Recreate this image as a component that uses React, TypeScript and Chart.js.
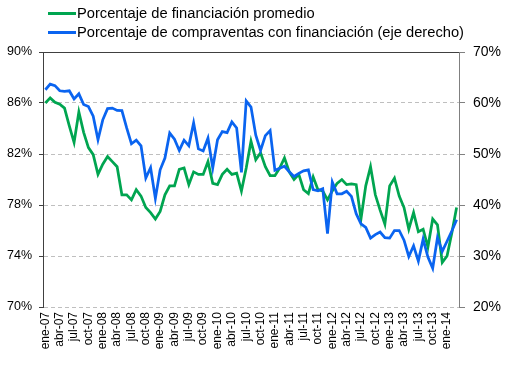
import React, { useEffect, useRef } from 'react';
import { Chart, registerables } from 'chart.js';

Chart.register(...registerables);

const categories: string[] = [
  'ene-07','feb-07','mar-07','abr-07','may-07','jun-07','jul-07','ago-07','sep-07','oct-07','nov-07','dic-07',
  'ene-08','feb-08','mar-08','abr-08','may-08','jun-08','jul-08','ago-08','sep-08','oct-08','nov-08','dic-08',
  'ene-09','feb-09','mar-09','abr-09','may-09','jun-09','jul-09','ago-09','sep-09','oct-09','nov-09','dic-09',
  'ene-10','feb-10','mar-10','abr-10','may-10','jun-10','jul-10','ago-10','sep-10','oct-10','nov-10','dic-10',
  'ene-11','feb-11','mar-11','abr-11','may-11','jun-11','jul-11','ago-11','sep-11','oct-11','nov-11','dic-11',
  'ene-12','feb-12','mar-12','abr-12','may-12','jun-12','jul-12','ago-12','sep-12','oct-12','nov-12','dic-12',
  'ene-13','feb-13','mar-13','abr-13','may-13','jun-13','jul-13','ago-13','sep-13','oct-13','nov-13','dic-13',
  'ene-14','feb-14','mar-14',
];

// Porcentaje de financiación promedio (left axis, %)
const financiacionPromedio: number[] = [
  86.0, 86.4, 86.05, 85.9, 85.6, 84.2, 82.9, 85.3, 83.7, 82.5, 81.95, 80.4,
  81.2, 81.8, 81.4, 81.0, 78.8, 78.8, 78.4, 79.2, 78.7, 77.8, 77.4, 76.9,
  77.5, 78.8, 79.5, 79.5, 80.8, 80.9, 79.6, 80.6, 80.4, 80.4, 81.4, 79.7,
  79.6, 80.4, 80.8, 80.4, 80.5, 79.1, 80.9, 83.0, 81.55, 82.1, 81.0, 80.3,
  80.3, 80.9, 81.7, 80.6, 80.0, 80.4, 79.2, 78.9, 80.2, 79.2, 79.1, 78.4,
  79.1, 79.7, 80.0, 79.6, 79.65, 79.6, 76.9, 79.5, 81.0, 78.8, 77.6, 76.5,
  79.5, 80.1, 78.7, 77.8, 76.1, 77.4, 75.9, 76.1, 74.7, 76.9, 76.45, 73.5,
  74.0, 75.8, 77.8,
];

// Porcentaje de compraventas con financiación (right axis, %)
const compraventasFinanciacion: number[] = [
  62.6, 63.7, 63.4, 62.4, 62.3, 62.4, 60.8, 61.8, 59.7, 59.3, 57.4, 52.8,
  56.7, 58.9, 59.0, 58.55, 58.5, 55.1, 52.0, 52.7, 51.6, 45.3, 47.3, 41.3,
  46.9, 49.2, 54.1, 52.9, 50.7, 52.7, 51.6, 56.1, 51.0, 50.6, 53.1, 47.3,
  52.8, 54.4, 54.2, 56.3, 55.1, 46.4, 60.4, 59.2, 53.7, 50.7, 53.6, 54.6,
  46.8, 47.2, 47.6, 46.5, 45.6, 46.2, 46.7, 46.9, 43.0, 42.8, 43.2, 34.4,
  44.5, 42.2, 42.2, 42.7, 41.7, 38.3, 36.3, 35.6, 33.5, 34.2, 34.7, 33.6,
  33.5, 35.0, 35.0, 33.1, 29.9, 32.0, 29.0, 33.3, 29.8, 27.6, 33.6, 30.9,
  32.9, 34.9, 37.1,
];

const seriesLabels: string[] = [
  'Porcentaje de financiación promedio',
  'Porcentaje de compraventas con financiación (eje derecho)',
];

const leftTicks: number[] = [70, 74, 78, 82, 86, 90];
const rightTicks: number[] = [20, 30, 40, 50, 60, 70];

const GREEN = '#00A550';
const BLUE = '#0A64F0';
const FONT = '"Liberation Sans", Arial, sans-serif';

const legendPlugin = {
  id: 'customLegend',
  afterDraw(chart: any) {
    const ctx = chart.ctx;
    const rows = [
      { label: seriesLabels[0], color: GREEN, y: 13.5 },
      { label: seriesLabels[1], color: BLUE, y: 32.5 },
    ];
    ctx.save();
    rows.forEach((r) => {
      ctx.strokeStyle = r.color;
      ctx.lineWidth = 3;
      ctx.beginPath();
      ctx.moveTo(48, r.y);
      ctx.lineTo(76, r.y);
      ctx.stroke();
      ctx.fillStyle = '#000';
      ctx.font = `14.7px ${FONT}`;
      ctx.textBaseline = 'middle';
      ctx.textAlign = 'left';
      ctx.fillText(r.label, 77, r.y);
    });
    ctx.restore();
  },
};

const topLinePlugin = {
  id: 'topLine',
  afterDraw(chart: any) {
    const { ctx, chartArea } = chart;
    ctx.save();
    ctx.strokeStyle = '#404040';
    ctx.lineWidth = 1;
    ctx.beginPath();
    const y = Math.round(chartArea.top) + 0.5;
    ctx.moveTo(chartArea.left, y);
    ctx.lineTo(chartArea.right, y);
    ctx.stroke();
    ctx.restore();
  },
};

export default function App() {
  const canvasRef = useRef<HTMLCanvasElement | null>(null);

  useEffect(() => {
    if (!canvasRef.current) return;
    Chart.defaults.font.family = FONT;
    const chart = new Chart(canvasRef.current, {
      type: 'line',
      data: {
        labels: categories,
        datasets: [
          {
            label: seriesLabels[0],
            data: financiacionPromedio,
            borderColor: GREEN,
            backgroundColor: GREEN,
            borderWidth: 2.75,
            pointRadius: 0,
            tension: 0,
            yAxisID: 'y',
            order: 1,
          },
          {
            label: seriesLabels[1],
            data: compraventasFinanciacion,
            borderColor: BLUE,
            backgroundColor: BLUE,
            borderWidth: 2.75,
            pointRadius: 0,
            tension: 0,
            yAxisID: 'y1',
            order: 0,
          },
        ],
      },
      options: {
        responsive: false,
        animation: false,
        layout: { padding: { top: 52, left: 0, right: 0, bottom: 0 } },
        plugins: {
          legend: { display: false },
          tooltip: { enabled: false },
        },
        scales: {
          x: {
            type: 'category',
            offset: true,
            grid: { display: false, drawTicks: false },
            border: { display: false },
            ticks: {
              autoSkip: false,
              maxRotation: 90,
              minRotation: 90,
              padding: 5,
              color: '#000',
              font: { size: 12 },
              callback: (_v: any, i: number) => (i % 3 === 0 ? categories[i] : ''),
            },
            afterFit: (scale: any) => {
              scale.height = 64;
            },
          },
          y: {
            position: 'left',
            min: 70,
            max: 90,
            afterBuildTicks: (scale: any) => {
              scale.ticks = leftTicks.map((v) => ({ value: v }));
            },
            ticks: {
              color: '#000',
              font: { size: 12.5 },
              padding: 7,
              callback: (v: any) => `${v}%`,
            },
            grid: {
              color: (ctx: any) => (ctx.tick && ctx.tick.value === 90 ? 'rgba(0,0,0,0)' : '#BFBFBF'),
              tickColor: '#404040',
              tickLength: 4,
              lineWidth: 1,
            },
            border: { display: true, color: '#404040', width: 1, dash: [4, 3] },
            afterFit: (scale: any) => {
              scale.width = 43;
            },
          },
          y1: {
            position: 'right',
            min: 20,
            max: 70,
            afterBuildTicks: (scale: any) => {
              scale.ticks = rightTicks.map((v) => ({ value: v }));
            },
            ticks: {
              color: '#000',
              font: { size: 14 },
              padding: 8,
              callback: (v: any) => `${v}%`,
            },
            grid: {
              drawOnChartArea: false,
              tickColor: '#808080',
              tickLength: 6,
            },
            border: { display: true, color: '#808080', width: 1 },
            afterFit: (scale: any) => {
              scale.width = 61;
            },
          },
        },
      },
      plugins: [legendPlugin, topLinePlugin],
    });
    return () => {
      chart.destroy();
    };
  }, []);

  return (
    <div style={{ position: 'absolute', left: 0, top: 0, width: 520, height: 371, background: '#fff' }}>
      <canvas ref={canvasRef} width={520} height={371} />
    </div>
  );
}
